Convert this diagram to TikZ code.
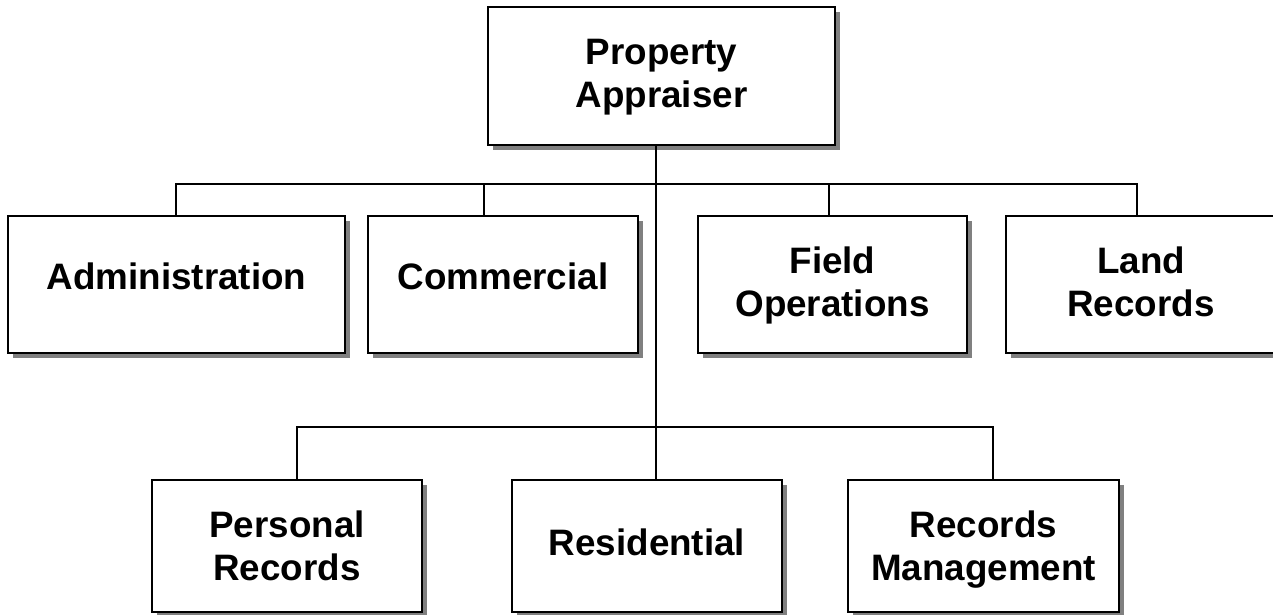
\documentclass[tikz,border=0pt]{standalone}
\usepackage{fontspec}
\setmainfont{Liberation Sans}
\usetikzlibrary{shadows}
\tikzset{
  orgbox/.style={draw=black, line width=2pt, fill=white, align=center,
    font=\fontsize{36.8}{43}\selectfont\bfseries,
    drop shadow={shadow xshift=5pt, shadow yshift=-5pt, fill=black!50, opacity=1},
    inner sep=0pt},
  twoline/.style={text height=70pt, text depth=7pt},
  twolinelow/.style={text height=70pt, text depth=1pt},
  oneline/.style={text height=27pt, text depth=17pt},
  onelinelow/.style={text height=27pt, text depth=9pt},
  conn/.style={draw=black, line width=2pt}
}
\begin{document}
\begin{tikzpicture}[x=1pt,y=-1pt]
\path[use as bounding box] (0,0) rectangle (1273,614);
\clip (0,0) rectangle (1273,614);
% boxes
\node[orgbox, twoline, minimum width=347pt, minimum height=138pt] (top) at (661.5,76) {Property\\Appraiser};
\node[orgbox, oneline, minimum width=337pt, minimum height=137pt] (admin) at (176.5,284.5) {Administration};
\node[orgbox, oneline, minimum width=270pt, minimum height=137pt] (comm) at (503,284.5) {Commercial};
\node[orgbox, twoline, minimum width=269pt, minimum height=137pt] (field) at (832.5,284.5) {Field\\Operations};
\node[orgbox, twoline, minimum width=270pt, minimum height=137pt] (land) at (1141,284.5) {Land\\Records};
\node[orgbox, twolinelow, minimum width=270pt, minimum height=132pt] (pers) at (287,546) {Personal\\Records};
\node[orgbox, onelinelow, minimum width=270pt, minimum height=132pt] (res) at (647,546) {Residential};
\node[orgbox, twolinelow, minimum width=271pt, minimum height=132pt] (rec) at (983.5,546) {Records\\Management};
% connector points
\coordinate (bus1) at (656,184);
\coordinate (bus2) at (656,427);
\draw[conn] (top.south -| bus1) -- (res.north -| bus1);
\draw[conn] (admin.north -| 176,0) |- (bus1) -| (land.north -| 1137,0);
\draw[conn] (bus1 -| 484,0) -- (comm.north -| 484,0);
\draw[conn] (bus1 -| 829,0) -- (field.north -| 829,0);
\draw[conn] (pers.north -| 297,0) |- (bus2) -| (rec.north -| 993,0);
\end{tikzpicture}
\end{document}
